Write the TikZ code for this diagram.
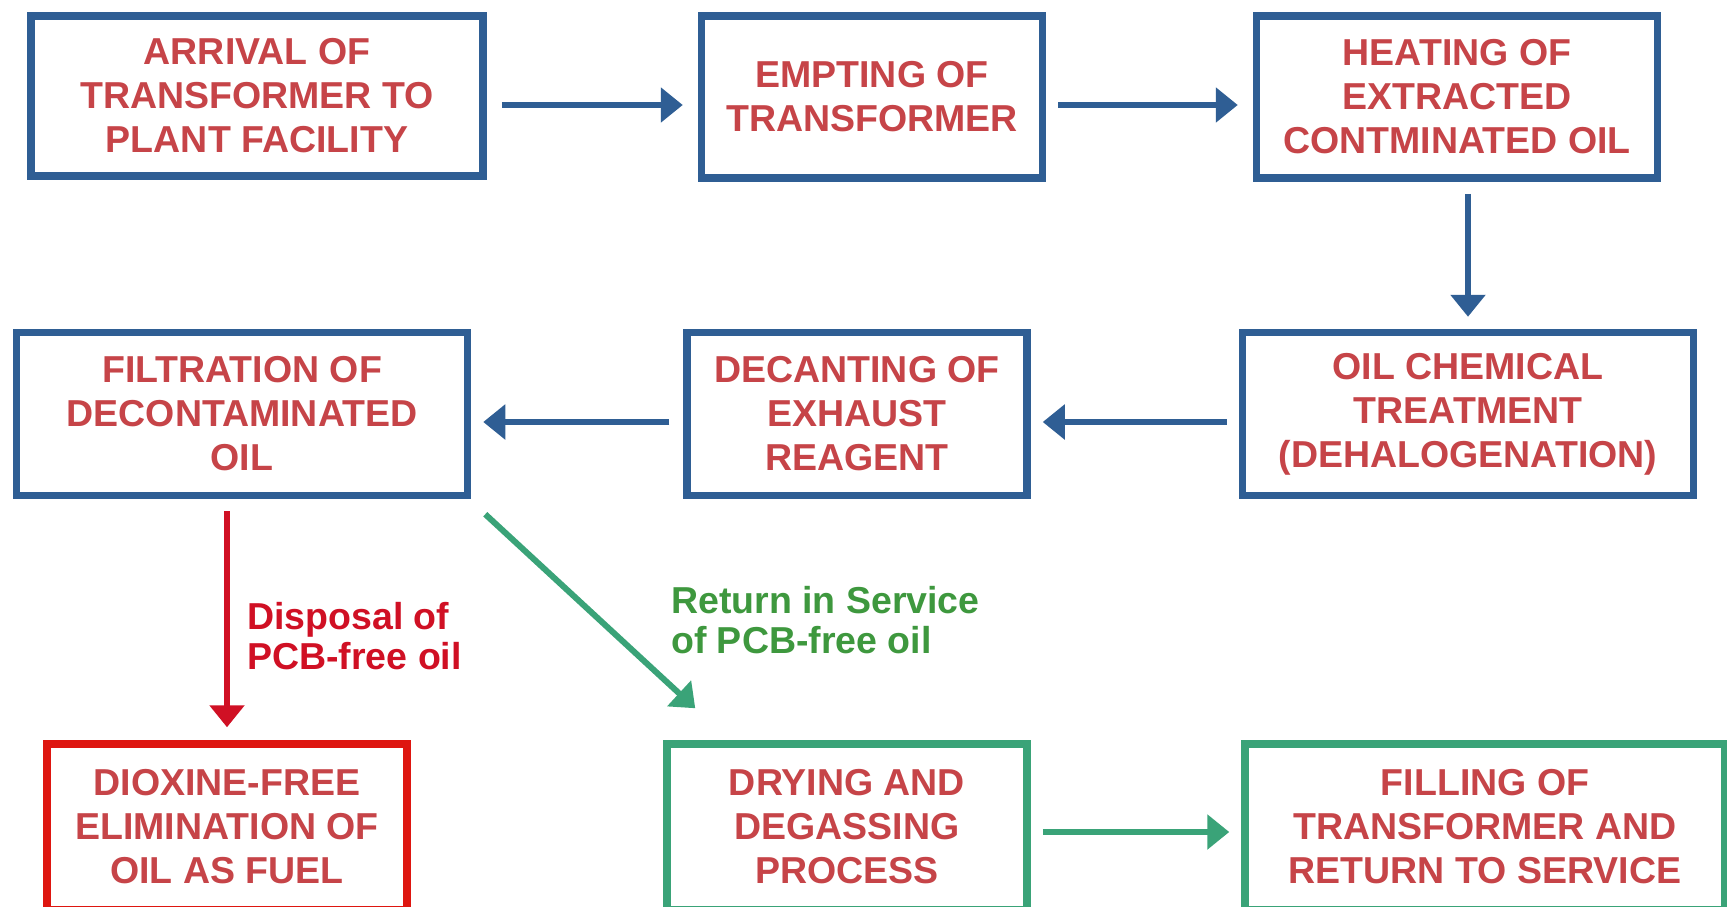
\documentclass[tikz,border=0pt]{standalone}
\usepackage{fontspec}
\setmainfont{Liberation Sans}
\usepackage{xcolor}
\usetikzlibrary{arrows.meta}

\definecolor{boxblue}{RGB}{47,94,148}
\definecolor{boxred}{RGB}{222,22,16}
\definecolor{boxgreen}{RGB}{58,163,120}
\definecolor{textred}{RGB}{198,68,72}
\definecolor{labelred}{RGB}{208,16,36}
\definecolor{labelgreen}{RGB}{62,152,62}

\tikzset{
    procbox/.style={draw=#1,line width=7.5pt,rectangle,inner sep=0pt,
        align=center,text=textred,font=\bfseries\fontsize{37.5}{44}\selectfont},
    flow/.style={draw=#1,line width=6pt,
        -{Triangle[length=22pt,width=34pt]}},
    flowlabel/.style={text=#1,align=left,anchor=west,inner sep=0pt,
        font=\bfseries\fontsize{37.5}{40}\selectfont},
}

\begin{document}
\begin{tikzpicture}[x=1pt,y=-1pt]
    \fill[white] (0,0) rectangle (1727,907);
    \useasboundingbox (0,0) rectangle (1727,907);

    % first row
    \node[procbox=boxblue,minimum width=452pt,minimum height=160pt] (arrival)
        at (257,96) {ARRIVAL OF\\TRANSFORMER TO\\PLANT FACILITY};
    \node[procbox=boxblue,minimum width=341pt,minimum height=162pt] (empting)
        at (872,97) {EMPTING OF\\TRANSFORMER};
    \node[procbox=boxblue,minimum width=401pt,minimum height=162pt] (heating)
        at (1457,97) {HEATING OF\\EXTRACTED\\CONTMINATED OIL};

    % second row
    \node[procbox=boxblue,minimum width=451pt,minimum height=163pt] (filtration)
        at (242,414) {FILTRATION OF\\DECONTAMINATED\\OIL};
    \node[procbox=boxblue,minimum width=340pt,minimum height=163pt] (decanting)
        at (857,414) {DECANTING OF\\EXHAUST\\REAGENT};
    \node[procbox=boxblue,minimum width=451pt,minimum height=163pt] (treatment)
        at (1468,414) {OIL CHEMICAL\\TREATMENT\\(DEHALOGENATION)};

    % third row
    \node[procbox=boxred,minimum width=360pt,minimum height=166pt] (dioxine)
        at (227,827) {DIOXINE-FREE\\ELIMINATION OF\\OIL AS FUEL};
    \node[procbox=boxgreen,minimum width=360pt,minimum height=166pt] (drying)
        at (847,827) {DRYING AND\\DEGASSING\\PROCESS};
    \node[procbox=boxgreen,minimum width=480pt,minimum height=166pt] (filling)
        at (1485,827) {FILLING OF\\TRANSFORMER AND\\RETURN TO SERVICE};

    % labels
    \node[flowlabel=labelred] (disposal) at (247,636)
        {Disposal of\\PCB-free oil};
    \node[flowlabel=labelgreen] (service) at (671,620)
        {Return in Service\\of PCB-free oil};
    \coordinate (greenstart) at ([shift={(14,15)}]filtration.south east);
    \coordinate (greenend) at ([shift={(32,-32)}]drying.north west);

    % connectors
    \draw[flow=boxblue,shorten <=15pt,shorten >=15pt]
        ([yshift=-9]arrival.east) -- ([yshift=-9]arrival.east -| empting.west);
    \draw[flow=boxblue,shorten <=12pt,shorten >=15pt]
        ([yshift=-8]empting.east) -- ([yshift=-8]empting.east -| heating.west);
    \draw[flow=boxblue,shorten <=12pt,shorten >=12pt]
        (heating.south -| treatment) -- (treatment.north);
    \draw[flow=boxblue,shorten <=12pt,shorten >=12pt]
        ([yshift=-8]treatment.west) -- ([yshift=-8]treatment.west -| decanting.east);
    \draw[flow=boxblue,shorten <=14pt,shorten >=12pt]
        ([yshift=-8]decanting.west) -- ([yshift=-8]decanting.west -| filtration.east);
    \draw[flow=labelred,shorten <=12pt,shorten >=13pt]
        (filtration.south -| dioxine) -- (dioxine.north);
    \draw[flow=boxgreen] (greenstart) -- (greenend);
    \draw[flow=boxgreen,shorten <=12pt,shorten >=12pt]
        ([yshift=-5]drying.east) -- ([yshift=-5]drying.east -| filling.west);
\end{tikzpicture}
\end{document}
